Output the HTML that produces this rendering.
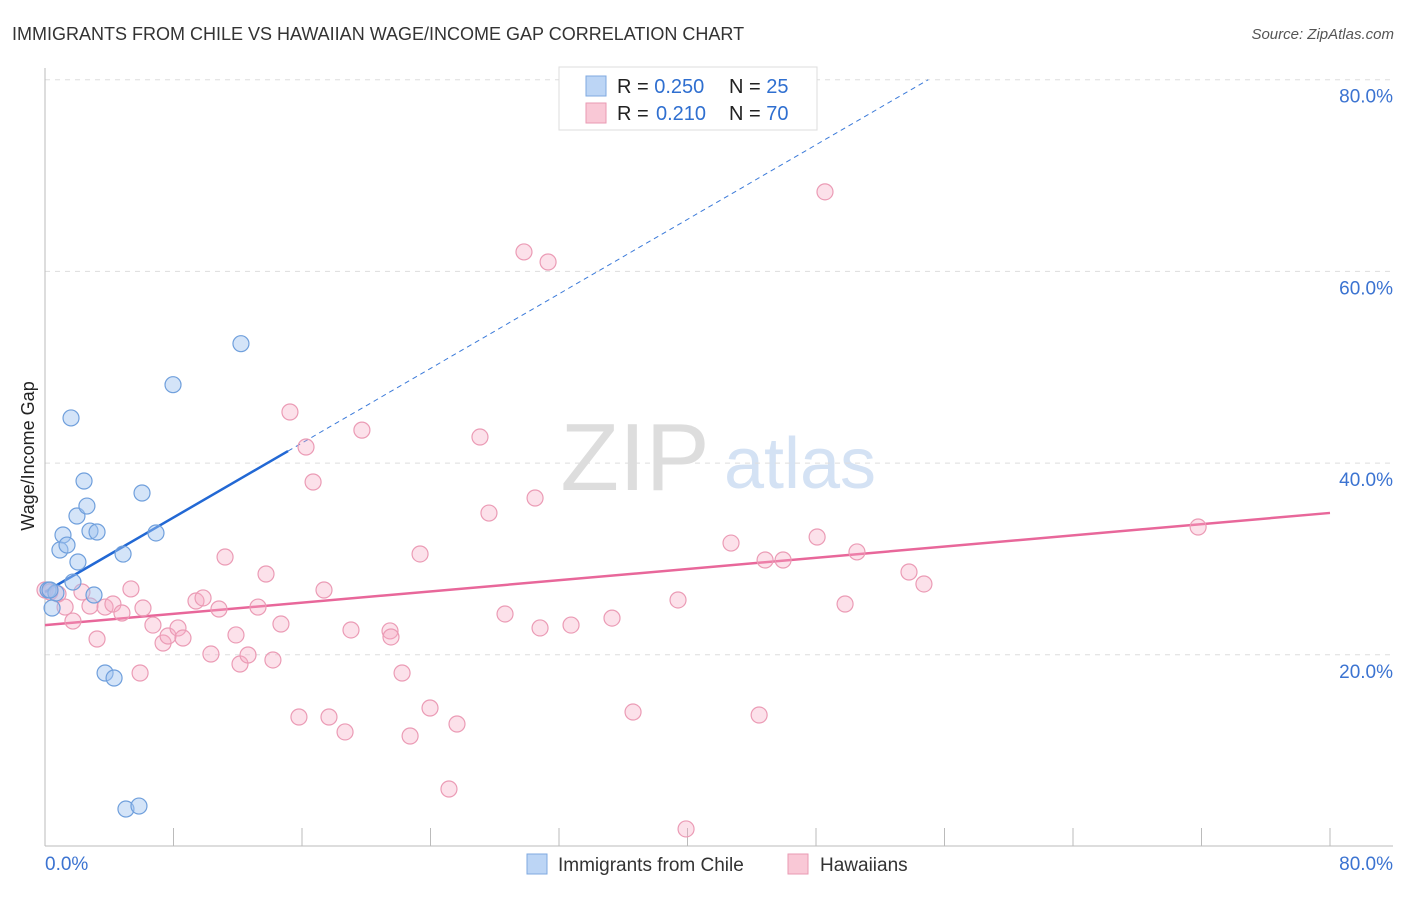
<!DOCTYPE html>
<html><head><meta charset="utf-8"><style>
body{margin:0;background:#fff;font-family:"Liberation Sans",sans-serif}
svg text{font-family:"Liberation Sans",sans-serif}
</style></head><body>
<svg id="chart" width="1406" height="892">
<text x="12" y="40" font-size="18" fill="#333">IMMIGRANTS FROM CHILE VS HAWAIIAN WAGE/INCOME GAP CORRELATION CHART</text>
<text x="1394" y="39" font-size="15" fill="#555" text-anchor="end" font-style="italic">Source: ZipAtlas.com</text>
<text transform="translate(34,456) rotate(-90)" font-size="18" fill="#222" text-anchor="middle">Wage/Income Gap</text>
<g><text x="635" y="490" font-size="96" font-family="Liberation Serif" fill="#ddd" text-anchor="middle">ZIP</text><text x="800" y="488" font-size="72" fill="#d4e2f4" text-anchor="middle">atlas</text></g>
<g id="grid"></g><g id="axes"></g><g id="lines"></g><g id="pts"></g>
<g>
<rect x="559" y="67" width="258" height="63" fill="#fff" stroke="#ddd"/>
<rect x="586" y="76" width="20" height="20" fill="#bcd5f5" stroke="#7fa9e0"/>
<rect x="586" y="103" width="20" height="20" fill="#f9c8d6" stroke="#e99ab3"/>
<text x="617" y="93" font-size="20" fill="#222">R = <tspan fill="#2f6fd0">0.250</tspan><tspan x="729">N = </tspan><tspan fill="#2f6fd0">25</tspan></text>
<text x="617" y="120" font-size="20" fill="#222">R = <tspan x="656" fill="#2f6fd0">0.210</tspan><tspan x="729">N = </tspan><tspan fill="#2f6fd0">70</tspan></text>
</g>
<g>
<rect x="527" y="854" width="20" height="20" fill="#bcd5f5" stroke="#7fa9e0"/>
<text x="558" y="871" font-size="19" fill="#333">Immigrants from Chile</text>
<rect x="788" y="854" width="20" height="20" fill="#f9c8d6" stroke="#e99ab3"/>
<text x="820" y="871" font-size="19" fill="#333">Hawaiians</text>
</g>
</svg>
<script>
const yTicks=[20,40,60,80];
const xTickLabels=["0.0%","80.0%"];
const chileX=[0.19,0.44,0.68,1.62,1.12,0.93,1.37,1.74,2.05,1.99,2.43,2.61,2.80,3.24,3.05,4.86,6.04,6.91,7.97,12.2,3.74,4.30,5.04,5.85,0.31];
const chileY=[26.76,24.88,26.45,44.71,32.5,30.93,31.45,27.59,29.68,34.48,38.13,35.52,32.91,32.81,26.24,30.51,36.88,32.71,48.18,52.46,18.1,17.58,3.91,4.22,26.76];
const hawX=[0,0.31,0.81,1.25,1.74,2.30,2.80,3.24,3.74,4.23,4.79,5.35,5.92,6.10,6.72,7.35,7.66,8.28,8.59,9.40,9.84,10.33,10.83,11.21,11.89,12.14,12.64,13.26,13.76,14.19,14.69,15.25,15.81,16.25,16.69,17.37,17.68,18.68,19.05,19.73,21.48,21.54,22.23,22.73,23.35,23.97,25.15,25.65,27.08,27.64,28.64,29.82,30.51,30.82,31.32,32.75,35.30,36.61,39.41,39.91,42.71,44.46,44.83,45.95,48.07,48.56,49.81,50.55,53.79,54.72,71.79];
const hawY=[26.76,26.55,26.34,24.98,23.52,26.55,25.09,21.65,24.98,25.30,24.36,26.87,18.10,24.88,23.10,21.23,21.96,22.80,21.75,25.61,25.93,20.08,24.78,30.20,22.07,19.04,19.98,24.98,28.43,19.46,23.21,45.33,13.51,41.68,38.03,26.76,13.51,11.95,22.59,43.44,22.49,21.86,18.10,11.53,30.52,14.45,6.00,12.78,42.72,34.79,24.26,62.03,36.36,22.80,60.98,23.10,23.83,14.03,25.72,1.83,31.66,13.72,29.89,29.89,32.29,68.30,25.30,30.73,28.64,27.39,33.33];
const chileTrend=[26.55,0.972,15.13];
const hawTrend=[23.1,34.8];
const NS="http://www.w3.org/2000/svg";
const X=v=>45+v/80*1285, Y=v=>846.5-v/20*191.7;
function mk(p,t,a){const e=document.createElementNS(NS,t);for(const k in a)e.setAttribute(k,a[k]);document.getElementById(p).appendChild(e);return e;}
yTicks.forEach(t=>{
 const l=mk('grid','line',{x1:45,x2:1393,y1:Y(t),y2:Y(t),stroke:'#ddd','stroke-dasharray':'5,5'});
 
 
 const tx=mk('grid','text',{x:1393,y:Y(t)+23,'font-size':19,fill:'#3b73d1','text-anchor':'end'});tx.textContent=t.toFixed(1)+'%';
 
 
});
mk('axes','line',{x1:45,x2:45,y1:68,y2:846,stroke:'#bbb'});
mk('axes','line',{x1:45,x2:1393,y1:846,y2:846,stroke:'#bbb'});
for(let i=1;i<=10;i++){mk('axes','line',{x1:X(i*8),x2:X(i*8),y1:828,y2:846,stroke:'#bbb'});}
const xl1=mk('axes','text',{x:45,y:870,'font-size':19,fill:'#3b73d1'});xl1.textContent=xTickLabels[0];


const xl2=mk('axes','text',{x:1393,y:870,'font-size':19,fill:'#3b73d1','text-anchor':'end'});xl2.textContent=xTickLabels[1];


hawX.forEach((x,i)=>{const c=mk('pts','circle',{cx:X(x),cy:Y(hawY[i]),r:8,fill:'rgba(245,170,195,0.35)',stroke:'#eb9bb5','stroke-width':1.2});
 
 });
chileX.forEach((x,i)=>{const c=mk('pts','circle',{cx:X(x),cy:Y(chileY[i]),r:8,fill:'rgba(160,195,240,0.45)',stroke:'#6f9fdc','stroke-width':1.2});
 
 });
const cf=x=>chileTrend[0]+chileTrend[1]*x;
const xe=(80-chileTrend[0])/chileTrend[1];
const d1=mk('lines','line',{x1:X(chileTrend[2]),y1:Y(cf(chileTrend[2])),x2:X(xe),y2:Y(80),stroke:'#3b7ad9','stroke-dasharray':'5,4','stroke-width':1});


const s1=mk('lines','line',{x1:X(0),y1:Y(cf(0)),x2:X(chileTrend[2]),y2:Y(cf(chileTrend[2])),stroke:'#2268d4','stroke-width':2.5});


const h1=mk('lines','line',{x1:X(0),y1:Y(hawTrend[0]),x2:X(80),y2:Y(hawTrend[1]),stroke:'#e8679a','stroke-width':2.5});


</script>
</body></html>
